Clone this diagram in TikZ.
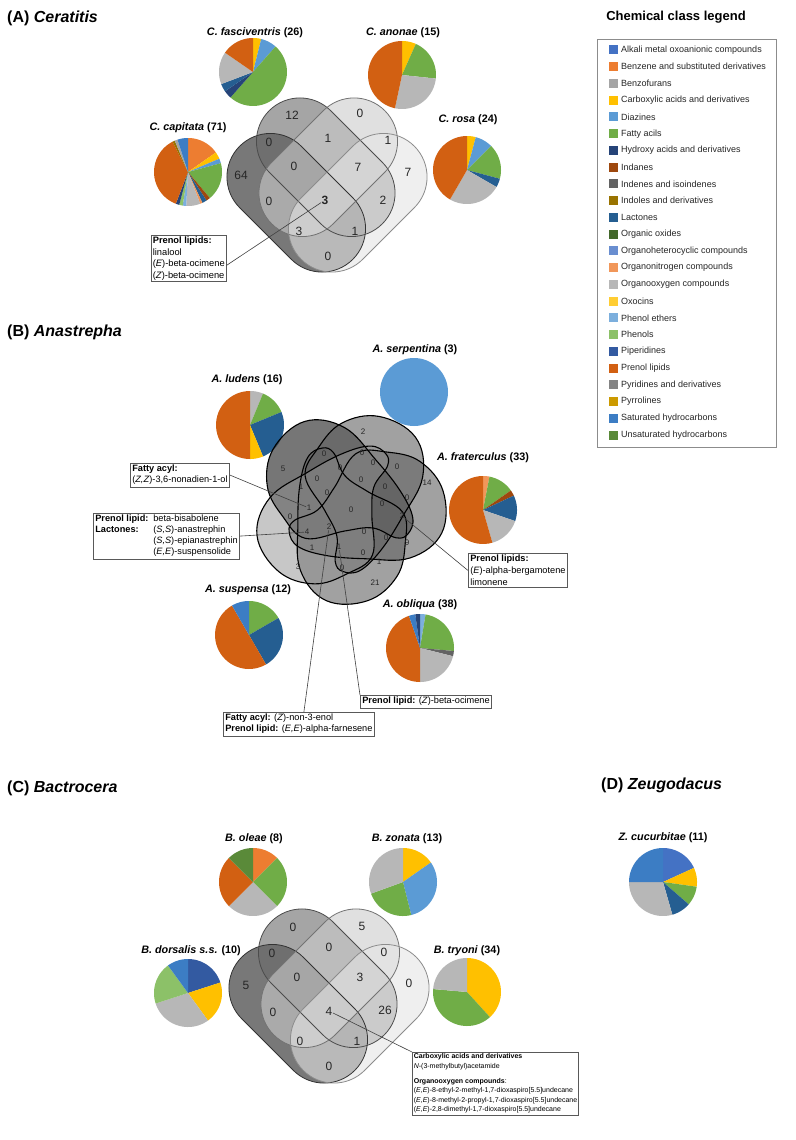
\documentclass[tikz,border=0pt]{standalone}
\usepackage{fontspec}
\setmainfont{Liberation Sans}
\definecolor{cAlk}{HTML}{4472C4}
\definecolor{cBenz}{HTML}{ED7D31}
\definecolor{cBfur}{HTML}{A5A5A5}
\definecolor{cCarb}{HTML}{FFC000}
\definecolor{cDiaz}{HTML}{5B9BD5}
\definecolor{cFatty}{HTML}{70AD47}
\definecolor{cHydr}{HTML}{264478}
\definecolor{cInda}{HTML}{9E480E}
\definecolor{cInde}{HTML}{636363}
\definecolor{cIndo}{HTML}{997300}
\definecolor{cLact}{HTML}{255E91}
\definecolor{cOxid}{HTML}{43682B}
\definecolor{cHet}{HTML}{698ED0}
\definecolor{cNit}{HTML}{F1975A}
\definecolor{cOxy}{HTML}{B7B7B7}
\definecolor{cOxo}{HTML}{FFCD33}
\definecolor{cPhE}{HTML}{7CAFDD}
\definecolor{cPhen}{HTML}{8CC168}
\definecolor{cPip}{HTML}{335AA1}
\definecolor{cPren}{HTML}{D26012}
\definecolor{cPyr}{HTML}{848484}
\definecolor{cPyrr}{HTML}{CC9A00}
\definecolor{cSat}{HTML}{3C7DC4}
\definecolor{cUns}{HTML}{5A8A39}
\colorlet{vA}{black!88}
\colorlet{vB}{black!59}
\colorlet{vC}{black!20}
\colorlet{vD}{black!10}
\colorlet{bL}{black!76}
\colorlet{bS}{black!61}
\colorlet{bF}{black!61}
\colorlet{bO}{black!61}
\colorlet{bU}{black!43}

% pie: cx, cy, r, list of start/end/colour (degrees clockwise from 12 o'clock)
\newcommand{\drawpie}[4]{%
  \foreach \pa/\pb/\pc in {#4}{%
    \pgfmathsetmacro\sa{\pa-90}\pgfmathsetmacro\sb{\pb-90}%
    \fill[\pc] (#1,#2) -- plot[domain=\sa:\sb, samples=30] ({#1+#3*cos(\x)},{#2+#3*sin(\x)}) -- cycle;}}

% four-set venn of rounded bands centred at (#1,#2)
\newcommand{\fourvenn}[2]{%
  \foreach \dx/\dy/\ang/\col in {-30.75/2.75/-45/vA, -1.25/-32.75/-45/vB, 1.25/-32.75/45/vC, 30.75/2.75/45/vD}{%
    \pgfmathsetmacro\ex{#1+\dx}\pgfmathsetmacro\ey{#2+\dy}%
    \fill[\col, fill opacity=0.6, rotate around={\ang:(\ex,\ey)}, rounded corners=43.5pt] (\ex-80,\ey-43.5) rectangle (\ex+80,\ey+43.5);}
  \foreach \dx/\dy/\ang/\col in {-30.75/2.75/-45/black!80, -1.25/-32.75/-45/black!70, 1.25/-32.75/45/black!55, 30.75/2.75/45/black!45}{%
    \pgfmathsetmacro\ex{#1+\dx}\pgfmathsetmacro\ey{#2+\dy}%
    \draw[\col, line width=0.8pt, rotate around={\ang:(\ex,\ey)}, rounded corners=43.5pt] (\ex-80,\ey-43.5) rectangle (\ex+80,\ey+43.5);}}

% one blob of the five-set venn
\newcommand{\blobshape}[1]{\path[#1] plot[smooth cycle, tension=0.65] coordinates {(-54,-3) (-30,-6) (-8,-22) (21,-47) (50,-40) (78,-22) (91,12) (78,50) (42,64) (0,52) (-35,38) (-58,22) (-62,6)};}

\begin{document}
\begin{tikzpicture}[x=1pt,y=-1pt,
  ttl/.style={font=\fontsize{16}{19}\selectfont\bfseries, anchor=west, inner sep=0pt},
  sp/.style={font=\fontsize{10.8}{13}\selectfont\bfseries, inner sep=0pt},
  vn/.style={font=\fontsize{12}{14}\selectfont, text=black!85, inner sep=0.5pt},
  bn/.style={font=\fontsize{8}{9}\selectfont, text=black!85, inner sep=0.5pt},
  note/.style={draw=black!65, line width=0.6pt, fill=white, align=left, inner sep=2pt, anchor=north west, font=\fontsize{9.2}{11}\selectfont},
  lead/.style={draw=black!75, line width=0.6pt},
  legsq/.style={minimum size=9pt, inner sep=0pt, draw=none},
  legtxt/.style={font=\fontsize{9}{11}\selectfont, anchor=west, inner sep=0pt, text=black!85}]
\useasboundingbox (0,0) rectangle (795,1140);
\fill[white] (0,0) rectangle (795,1140);

% ---------------- titles
\node[ttl] (tA) at (7,18) {(A) \textit{Ceratitis}};
\node[ttl] (tB) at (7,332) {(B) \textit{Anastrepha}};
\node[ttl] (tC) at (7,788) {(C) \textit{Bactrocera}};
\node[ttl] (tD) at (601,785) {(D) \textit{Zeugodacus}};

% ---------------- legend
\node[font=\fontsize{13}{15}\selectfont\bfseries, inner sep=0pt] (legt) at (676,17) {Chemical class legend};
\draw[black!45, line width=0.8pt] (597,39) rectangle (776,447);
\foreach \i/\c/\t in {1/cAlk/Alkali metal oxoanionic compounds, 2/cBenz/Benzene and substituted derivatives, 3/cBfur/Benzofurans, 4/cCarb/Carboxylic acids and derivatives, 5/cDiaz/Diazines, 6/cFatty/Fatty acils, 7/cHydr/Hydroxy acids and derivatives, 8/cInda/Indanes, 9/cInde/Indenes and isoindenes, 10/cIndo/Indoles and derivatives, 11/cLact/Lactones, 12/cOxid/Organic oxides, 13/cHet/Organoheterocyclic compounds, 14/cNit/Organonitrogen compounds, 15/cOxy/Organooxygen compounds, 16/cOxo/Oxocins, 17/cPhE/Phenol ethers, 18/cPhen/Phenols, 19/cPip/Piperidines, 20/cPren/Prenol lipids, 21/cPyr/Pyridines and derivatives, 22/cPyrr/Pyrrolines, 23/cSat/Saturated hydrocarbons, 24/cUns/Unsaturated hydrocarbons}{
  \node[legsq, fill=\c] (sq\i) at (613,{50+(\i-1)*16.74}) {};
  \node[legtxt] (lt\i) at (621,{50+(\i-1)*16.74}) {\t};
}

% ---------------- (A) Ceratitis
\drawpie{253}{72}{34}{0/14/cCarb, 14/41.5/cDiaz, 41.5/221.5/cFatty, 221.5/235.4/cHydr, 235.4/249.2/cLact, 249.2/304.6/cOxy, 304.6/360/cPren}
\drawpie{402}{75}{34}{0/24/cCarb, 24/96/cFatty, 96/192/cOxy, 192/360/cPren}
\drawpie{188}{172}{34}{0/55/cBenz, 55/67/cCarb, 67/75/cDiaz, 75/140/cFatty, 140/147/cInda, 147/155/cLact, 155/159/cNit, 159/183/cOxy, 183/189/cPhE, 189/195/cPhen, 195/201/cHydr, 201/333/cPren, 333/337/cIndo, 337/342/cBfur, 342/360/cSat}
\drawpie{467}{170}{34}{0/15/cCarb, 15/45/cDiaz, 45/105/cFatty, 105/120/cLact, 120/210/cOxy, 210/360/cPren}
\node[sp] (lfas) at (255,33) {\textit{C. fasciventris} (26)};
\node[sp] (lano) at (403,33) {\textit{C. anonae} (15)};
\node[sp] (lcap) at (188,128) {\textit{C. capitata} (71)};
\node[sp] (lros) at (468,120) {\textit{C. rosa} (24)};

\fourvenn{327}{200}
\node[vn] (a1) at (241,175) {64};
\node[vn] (a2) at (292,115) {12};
\node[vn] (a3) at (360,113) {0};
\node[vn] (a4) at (408,172) {7};
\node[vn] (a5) at (269,142) {0};
\node[vn] (a6) at (328,138) {1};
\node[vn] (a7) at (388,140) {1};
\node[vn] (a8) at (294,166) {0};
\node[vn] (a9) at (358,167) {7};
\node[vn] (a10) at (269,201) {0};
\node[vn, font=\fontsize{12}{14}\selectfont\bfseries] (a11) at (325,200) {3};
\node[vn] (a12) at (383,200) {2};
\node[vn] (a13) at (299,231) {3};
\node[vn] (a14) at (355,231) {1};
\node[vn] (a15) at (328,256) {0};

\node[note, font=\fontsize{9.3}{11.5}\selectfont, inner sep=1.5pt] (boxA) at (151,235) {\textbf{Prenol lipids:}\\linalool\\(\textit{E})-beta-ocimene\\(\textit{Z})-beta-ocimene};
\draw[lead] ([yshift=-7pt]boxA.east) -- (a11);

% ---------------- (B) Anastrepha
\drawpie{250}{425}{34}{0/22.5/cOxy, 22.5/67.5/cFatty, 67.5/157.5/cLact, 157.5/180/cCarb, 180/360/cPren}
\fill[cDiaz] (414,392) circle[radius=34];
\drawpie{483}{510}{34}{0/11/cNit, 11/55/cFatty, 55/65/cInda, 65/109/cLact, 109/164/cOxy, 164/360/cPren}
\drawpie{249}{635}{34}{0/60/cFatty, 60/150/cLact, 150/330/cPren, 330/360/cSat}
\drawpie{420}{648}{34}{0/9.5/cPhE, 9.5/95/cFatty, 95/104/cInde, 104/180/cOxy, 180/341/cPren, 341/352/cSat, 352/360/cHydr}
\node[sp] (llud) at (247,380) {\textit{A. ludens} (16)};
\node[sp] (lser) at (415,350) {\textit{A. serpentina} (3)};
\node[sp] (lfra) at (483,458) {\textit{A. fraterculus} (33)};
\node[sp] (lsus) at (248,590) {\textit{A. suspensa} (12)};
\node[sp] (lobl) at (420,605) {\textit{A. obliqua} (38)};

\foreach \ang/\col/\op in {150/bL/0.7, 79/bS/0.6, 17/bF/0.6, 289/bO/0.6, 230/bU/0.5}{
  \blobshape{fill=\col, fill opacity=\op, shift={(349,507)}, rotate=\ang, scale=1.04}
}
\foreach \ang in {150, 79, 17, 289, 230}{
  \blobshape{draw=black, line width=1.1pt, shift={(349,507)}, rotate=\ang, scale=1.04}
}
\foreach \n/\px/\py/\v in {1/363/432/2, 2/283/469/5, 3/324/454/0, 4/362/453/0, 5/373/463/0, 6/397/467/0, 7/427/483/14, 8/301/487/1, 9/317/479/0, 10/340/468/0, 11/361/480/0, 12/385/487/0, 13/407/498/0, 14/327/493/0, 15/290/517/0, 16/309/508/1, 17/351/510/0, 18/382/504/0, 19/402/516/2, 20/307/532/4, 21/329/527/2, 22/364/532/0, 23/386/538/0, 24/407/543/9, 25/312/548/1, 26/339/547/1, 27/363/553/0, 28/379/562/1, 29/298/567/3, 30/342/568/0, 31/375/583/21}{
  \node[bn] (b\n) at (\px,\py) {\v};
}

\node[note] (fa) at (130,463) {\textbf{Fatty acyl:}\\(\textit{Z,Z})-3,6-nonadien-1-ol};
\node[note] (pl) at (93,513) {\makebox[58pt][l]{\textbf{Prenol lipid:}}beta-bisabolene\\\makebox[58pt][l]{\textbf{Lactones:}}(\textit{S,S})-anastrephin\\\makebox[58pt][l]{}(\textit{S,S})-epianastrephin\\\makebox[58pt][l]{}(\textit{E,E})-suspensolide};
\node[note, font=\fontsize{9.2}{11.8}\selectfont] (fb) at (468,553) {\textbf{Prenol lipids:}\\(\textit{E})-alpha-bergamotene\\limonene};
\node[note] (oc) at (360,695) {\textbf{Prenol lipid:} (\textit{Z})-beta-ocimene};
\node[note] (bb) at (223,712) {\textbf{Fatty acyl:} (\textit{Z})-non-3-enol\\\textbf{Prenol lipid:} (\textit{E,E})-alpha-farnesene};
\draw[lead] (fa.east) -- (b16);
\draw[lead] (pl.east) -- (b20);
\draw[lead] (b19) -- (fb.west);
\draw[lead] (b21) -- ([xshift=5pt]bb.north);
\draw[lead] (b26) -- (oc.north west);

% ---------------- (C) Bactrocera
\drawpie{253}{882}{34}{0/45/cBenz, 45/135/cFatty, 135/225/cOxy, 225/315/cPren, 315/360/cUns}
\drawpie{403}{882}{34}{0/55/cCarb, 55/166/cDiaz, 166/250/cFatty, 250/360/cOxy}
\drawpie{188}{993}{34}{0/72/cPip, 72/144/cCarb, 144/252/cOxy, 252/324/cPhen, 324/360/cSat}
\drawpie{467}{992}{34}{0/137.6/cCarb, 137.6/275/cFatty, 275/360/cOxy}
\node[sp] (lole) at (254,839) {\textit{B. oleae} (8)};
\node[sp] (lzon) at (407,839) {\textit{B. zonata} (13)};
\node[sp] (ldor) at (191,951) {\textit{B. dorsalis s.s.} (10)};
\node[sp] (ltry) at (467,951) {\textit{B. tryoni} (34)};

\fourvenn{329}{1011}
\foreach \n/\px/\py/\v in {1/246/985/5, 2/293/927/0, 3/362/926/5, 4/409/983/0, 5/272/953/0, 6/329/947/0, 7/384/952/0, 8/297/977/0, 9/360/977/3, 10/273/1012/0, 11/385/1010/26, 12/329/1011/4, 13/300/1041/0, 14/357/1041/1, 15/329/1066/0}{
  \node[vn] (c\n) at (\px,\py) {\v};
}
\node[note, font=\fontsize{7}{9.6}\selectfont, inner sep=1.5pt] (cb) at (412,1052) {\textbf{Carboxylic acids and derivatives}\\\textit{N}-(3-methylbutyl)acetamide\\[5pt]\textbf{Organooxygen compounds}:\\(\textit{E,E})-8-ethyl-2-methyl-1,7-dioxaspiro[5.5]undecane\\(\textit{E,E})-8-methyl-2-propyl-1,7-dioxaspiro[5.5]undecane\\(\textit{E,E})-2,8-dimethyl-1,7-dioxaspiro[5.5]undecane};
\draw[lead] (c12) -- (cb.north west);

% ---------------- (D) Zeugodacus
\drawpie{663}{882}{34}{0/65.5/cAlk, 65.5/98/cCarb, 98/131/cFatty, 131/164/cLact, 164/270/cOxy, 270/360/cSat}
\node[sp] (lcuc) at (663,838) {\textit{Z. cucurbitae} (11)};
\end{tikzpicture}
\end{document}
